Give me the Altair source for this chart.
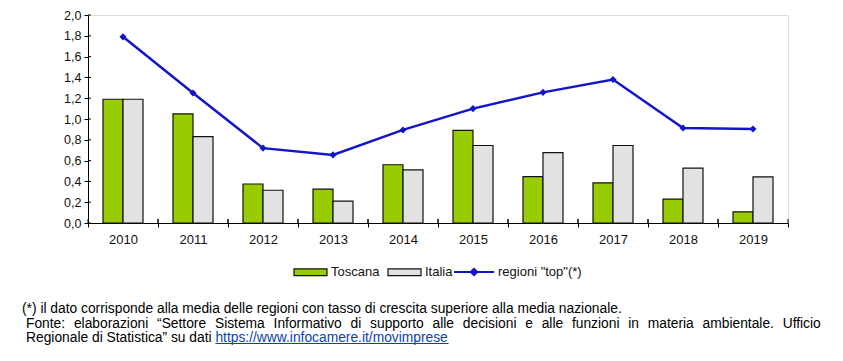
import altair as alt
import pandas as pd

years = ["2010", "2011", "2012", "2013", "2014", "2015", "2016", "2017", "2018", "2019"]
toscana = [1.19, 1.05, 0.375, 0.325, 0.56, 0.89, 0.445, 0.385, 0.23, 0.107]
italia = [1.19, 0.83, 0.315, 0.21, 0.51, 0.745, 0.677, 0.745, 0.527, 0.443]
top = [1.79, 1.25, 0.72, 0.655, 0.895, 1.10, 1.256, 1.38, 0.913, 0.904]
y_ticks = [0.0, 0.2, 0.4, 0.6, 0.8, 1.0, 1.2, 1.4, 1.6, 1.8, 2.0]
series = ["Toscana", "Italia"]
line_label = 'regioni "top"(*)'

note1 = "(*) il dato corrisponde alla media delle regioni con tasso di crescita superiore alla media nazionale."
note2 = ("Fonte: elaborazioni \u201cSettore Sistema Informativo di supporto alle decisioni e alle "
         "funzioni in materia ambientale. Ufficio")
note3a = "Regionale di Statistica\u201d su dati "
note3b = "https://www.infocamere.it/movimprese"

FONT = "Liberation Sans"
TOP = 7
W, H = 700, 208
FS = 13.8

# Arial / Liberation Sans advance widths (1/1000 em) for justification of text
AW = {' ': 278, '!': 278, '"': 355, '(': 333, ')': 333, '*': 389, ',': 278, '-': 333, '.': 278,
      '/': 278, ':': 278, '\u201c': 333, '\u201d': 333,
      'A': 667, 'B': 667, 'C': 722, 'D': 722, 'E': 667, 'F': 611, 'G': 778, 'H': 722, 'I': 278,
      'J': 500, 'K': 667, 'L': 556, 'M': 833, 'N': 722, 'O': 778, 'P': 667, 'Q': 778, 'R': 722,
      'S': 667, 'T': 611, 'U': 722, 'V': 667, 'W': 944, 'X': 667, 'Y': 667, 'Z': 611,
      'a': 556, 'b': 556, 'c': 500, 'd': 556, 'e': 556, 'f': 278, 'g': 556, 'h': 556, 'i': 222,
      'j': 222, 'k': 500, 'l': 222, 'm': 833, 'n': 556, 'o': 556, 'p': 556, 'q': 556, 'r': 333,
      's': 500, 't': 278, 'u': 556, 'v': 500, 'w': 722, 'x': 500, 'y': 500, 'z': 500}


def tw(s):
    return sum(AW.get(c, 556) for c in s) * FS / 1000.0


bars_df = pd.DataFrame({
    "year": years * 2,
    "serie": ["Toscana"] * len(years) + ["Italia"] * len(years),
    "v": toscana + italia,
})
line_df = pd.DataFrame({"year": years, "v": top, "lab": [line_label] * len(years)})
ticks_df = pd.DataFrame({"v": y_ticks})
years_df = pd.DataFrame({"year": years})

xscale = alt.Scale(domain=years, paddingInner=0, paddingOuter=0)
yscale = alt.Scale(domain=[0, 2], nice=False)

x_axis = alt.Axis(labelAngle=0, tickBand="extent", tickSize=4, tickColor="#000",
                  domainColor="#000", labelFont=FONT, labelFontSize=13,
                  labelColor="#111", labelPadding=6, domainWidth=1, tickWidth=1, title=None)
y_axis = alt.Axis(values=y_ticks, tickSize=4, tickColor="#000", domainColor="#000",
                  labelFont=FONT, labelFontSize=12.5, labelColor="#111",
                  labelPadding=3, grid=False, domainWidth=1, tickWidth=1,
                  labelOverlap=False, title=None,
                  labelExpr="replace(format(datum.value, '.1f'), '.', ',')")
x_enc = alt.X("year:N", scale=xscale, axis=x_axis)
y_enc = alt.Y("v:Q", scale=yscale, axis=y_axis)

bars = alt.Chart(bars_df).mark_bar(stroke="#111", strokeWidth=1.2).encode(
    x=x_enc,
    xOffset=alt.XOffset("serie:N", sort=series,
                        scale=alt.Scale(domain=series, paddingInner=0, paddingOuter=0.75)),
    y=y_enc,
    color=alt.Color("serie:N", scale=alt.Scale(domain=series, range=["#99CC00", "#E2E2E2"]),
                    legend=alt.Legend(orient="none", legendX=205, legendY=272 - 9 - TOP - 16.5,
                                      direction="horizontal", title=None,
                                      symbolType="M-1,-0.21L1,-0.21L1,0.21L-1,0.21Z",
                                      symbolSize=1089, symbolStrokeColor="#111",
                                      symbolStrokeWidth=1.2, labelFont=FONT,
                                      labelFontSize=13, labelColor="#111",
                                      labelOffset=3, columnPadding=5, padding=0)),
)

line = alt.Chart(line_df).mark_line(strokeWidth=2.5).encode(
    x=x_enc,
    y=y_enc,
    stroke=alt.Stroke("lab:N", scale=alt.Scale(domain=[line_label], range=["#1414C8"]),
                      legend=alt.Legend(orient="none", legendX=365, legendY=272 - 9 - TOP - 20,
                                        direction="horizontal", title=None,
                                        symbolType="M-1,0L1,0M-0.16,0L0,-0.16L0.16,0L0,0.16Z",
                                        symbolSize=1600, symbolStrokeWidth=2,
                                        symbolFillColor="#1414C8",
                                        labelFont=FONT, labelFontSize=13,
                                        labelColor="#111", labelOffset=3, padding=0)),
)
points = alt.Chart(line_df).mark_point(shape="diamond", filled=True, size=50,
                                       color="#1414C8", opacity=1).encode(
    x=x_enc,
    y=y_enc,
)

ytick_in = alt.Chart(ticks_df).mark_rule(color="#000", strokeWidth=1).encode(
    y=y_enc, x=alt.value(0), x2=alt.value(3))
xtick_in0 = alt.Chart(years_df).mark_rule(color="#000", strokeWidth=1).encode(
    x=alt.X("year:N", scale=xscale, bandPosition=0, axis=x_axis), y=alt.value(H - 4), y2=alt.value(H))
xtick_in1 = alt.Chart(years_df).mark_rule(color="#000", strokeWidth=1).encode(
    x=alt.X("year:N", scale=xscale, bandPosition=1, axis=x_axis), y=alt.value(H - 4), y2=alt.value(H))

main = alt.layer(bars, line, points, ytick_in, xtick_in0, xtick_in1)

# footnote text (positions in pixels, relative to plot origin)
OX, OY = 88, 8 + TOP
rows = []
rows.append({"t": note1, "px": 22 - OX, "py": 313 - OY, "c": "#000"})
words = note2.split(" ")
x0, x1 = 26 - OX, 821 - OX
total = sum(tw(w) for w in words)
gap = (x1 - x0 - total) / (len(words) - 1)
cx = x0
for w in words:
    rows.append({"t": w, "px": cx, "py": 327.5 - OY, "c": "#000"})
    cx += tw(w) + gap
rows.append({"t": note3a, "px": 26 - OX, "py": 342 - OY, "c": "#000"})
link_x = 26 - OX + tw(note3a)
rows.append({"t": note3b, "px": link_x, "py": 342 - OY, "c": "#0645AD"})
text_df = pd.DataFrame(rows)

notes = alt.Chart(text_df).mark_text(align="left", baseline="alphabetic", font=FONT,
                                     fontSize=FS).encode(
    x=alt.X("px:Q", scale=None, axis=None),
    y=alt.Y("py:Q", scale=None, axis=None),
    text="t:N",
    color=alt.Color("c:N", scale=None, legend=None),
)
ul_df = pd.DataFrame({"px": [link_x], "px2": [link_x + tw(note3b)], "py": [343.5 - OY]})
underline = alt.Chart(ul_df).mark_rule(color="#0645AD", strokeWidth=1).encode(
    x=alt.X("px:Q", scale=None, axis=None),
    x2="px2:Q",
    y=alt.Y("py:Q", scale=None, axis=None),
)

chart = alt.layer(main, notes, underline).resolve_scale(
    x="independent", y="independent", color="independent"
).properties(
    width=W, height=H,
    autosize=alt.AutoSizeParams(type="none"),
    padding={"left": 80, "top": TOP, "right": 47, "bottom": 345 - TOP - H},
).configure_view(stroke=None).configure(background="white")

chart.save("out.html", embed_options={"renderer": "svg", "actions": False})
